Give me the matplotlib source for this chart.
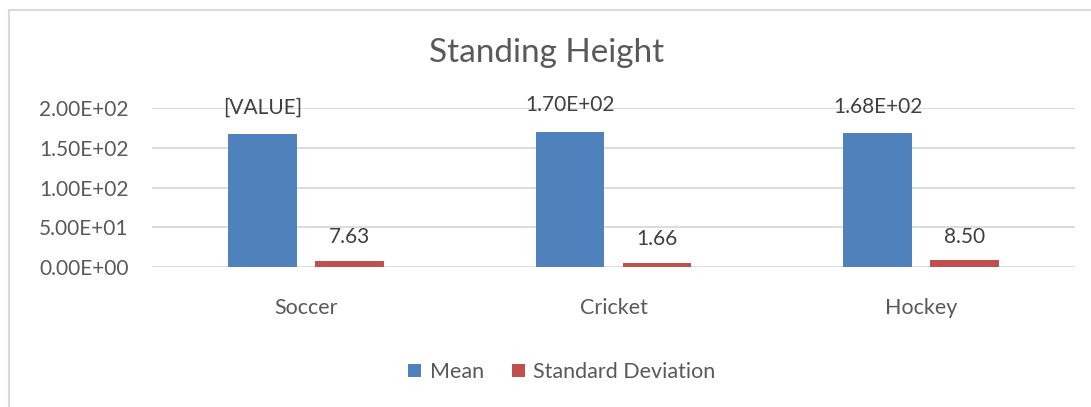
import matplotlib
matplotlib.use("Agg")
import matplotlib.pyplot as plt
from matplotlib.patches import Rectangle
from matplotlib.ticker import FuncFormatter

# data
sports = ["Soccer", "Cricket", "Hockey"]
mean_vals = [167, 170, 168]
sd_vals = [7.63, 5.5, 8.50]   # bar heights as drawn in the picture
mean_labels = ["[VALUE]", "1.70E+02", "1.68E+02"]
sd_labels = ["7.63", "1.66", "8.50"]
yticks = [0, 50, 100, 150, 200]

plt.rcParams['font.family'] = ['Lato', 'DejaVu Sans']
txt = '#595959'
blue = '#4F81BD'
red = '#C0504D'

fig = plt.figure(figsize=(10.91, 4.07), dpi=100)
W, H = 1091, 407

# chart border (cropped at right/bottom like the screenshot)
fig.add_artist(Rectangle((9 / W, -0.05), 1.1, 1 - 10 / H + 0.05,
                         transform=fig.transFigure, fill=False,
                         edgecolor='#D9D9D9', linewidth=1.5))

ax = fig.add_axes([152 / W, 1 - 267 / H, (1075 - 152) / W, (267 - 108) / H])

x = list(range(len(sports)))
bw = 0.224
off = 0.1414
b1 = ax.bar([i - off for i in x], mean_vals, bw, color=blue, label='Mean', zorder=3)
b2 = ax.bar([i + off for i in x], sd_vals, bw, color=red, label='Standard Deviation', zorder=3)

for rect, lab in zip(b1, mean_labels):
    ax.annotate(lab, (rect.get_x() + rect.get_width() / 2, rect.get_height()),
                xytext=(0, 19), textcoords='offset points', ha='center', va='center',
                fontsize=15, color='#404040', zorder=4)
for rect, lab in zip(b2, sd_labels):
    ax.annotate(lab, (rect.get_x() + rect.get_width() / 2, rect.get_height()),
                xytext=(0, 17), textcoords='offset points', ha='center', va='center',
                fontsize=15, color='#404040', zorder=4)

ax.set_xlim(-0.5, 2.5)
ax.set_ylim(0, 200)
ax.set_yticks(yticks)
ax.yaxis.set_major_formatter(FuncFormatter(lambda v, p: "%.2E" % v))
ax.set_xticks(x)
ax.set_xticklabels(sports)
ax.tick_params(axis='y', length=0, pad=17, labelsize=15, labelcolor=txt)
ax.tick_params(axis='x', length=0, pad=22, labelsize=15.5, labelcolor=txt)
ax.grid(axis='y', color='#D9D9D9', linewidth=1.3, zorder=0)
for s in ax.spines.values():
    s.set_visible(False)
ax.set_facecolor('none')

fig.text(547 / W, 1 - 53 / H, "Standing Height", ha='center', va='center',
         fontsize=24, color=txt)

fig.legend(handles=[b1, b2], loc='center', bbox_to_anchor=(562 / W, 1 - 372 / H),
           ncol=2, frameon=False, fontsize=15.5, labelcolor=txt,
           handlelength=0.6, handleheight=0.6, handletextpad=0.4, columnspacing=1.3)

fig.savefig("out.png", dpi=100)
